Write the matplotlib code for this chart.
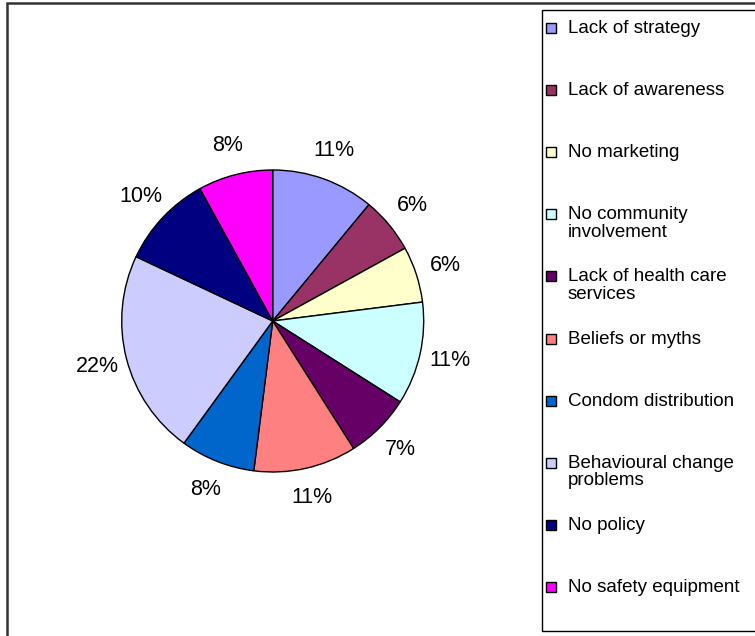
import matplotlib
matplotlib.use('Agg')
import matplotlib.pyplot as plt
from matplotlib.patches import Rectangle

plt.rcParams['font.family'] = ['Liberation Sans', 'DejaVu Sans']

# survey shares (%), clockwise from 12 o'clock
categories = ['Lack of strategy', 'Lack of awareness', 'No marketing',
              'No community\ninvolvement', 'Lack of health care\nservices',
              'Beliefs or myths', 'Condom distribution',
              'Behavioural change\nproblems', 'No policy', 'No safety equipment']
shares = [11, 6, 6, 11, 7, 11, 8, 22, 10, 8]
colors = ['#9999FF', '#993366', '#FFFFCC', '#CCFFFF', '#660066',
          '#FF8080', '#0066CC', '#CCCCFF', '#000080', '#FF00FF']

W, H = 755, 636
fig = plt.figure(figsize=(W / 100, H / 100), dpi=100)

def px(x, y):
    # pixel coords (origin top-left) -> figure fraction
    return x / W, 1 - y / H

# outer chart frame, open to the right and bottom
fl, ft = px(7, 3)
fig.add_artist(Rectangle((fl, -0.1), 1.2, ft + 0.1, transform=fig.transFigure,
                         fill=False, edgecolor='#333333', linewidth=1.8))

# pie axes
cx, cy, r = 272.7, 321, 151
lim = 1.3
side = 2 * lim * r
ax = fig.add_axes([(cx - side / 2) / W, (H - cy - side / 2) / H, side / W, side / H])
wedges, texts, autotexts = ax.pie(
    shares, colors=colors, startangle=90, counterclock=False,
    autopct='%.0f%%', pctdistance=1.2,
    wedgeprops=dict(edgecolor='black', linewidth=1),
    textprops=dict(fontsize=15.5, color='black'))
ax.set_xlim(-lim, lim)
ax.set_ylim(-lim, lim)
ax.set_aspect('equal')
ax.axis('off')

# legend box
lx0, ly0 = px(541.5, 10)
lx1, ly1 = px(800, 631)
fig.add_artist(Rectangle((lx0, ly1), lx1 - lx0, ly0 - ly1, transform=fig.transFigure,
                         fill=True, facecolor='white', edgecolor='black', linewidth=1))

for i, (name, col) in enumerate(zip(categories, colors)):
    yc = 28 + i * 62.1
    sx, sy = px(546, yc + 5)
    fig.add_artist(Rectangle((sx, sy), 10 / W, 10 / H, transform=fig.transFigure,
                             facecolor=col, edgecolor='black', linewidth=1))
    tx, ty = px(568, yc - 8)
    fig.text(tx, ty, name, ha='left', va='top', fontsize=13.5, linespacing=1.05)

fig.savefig('out.png', dpi=100)
